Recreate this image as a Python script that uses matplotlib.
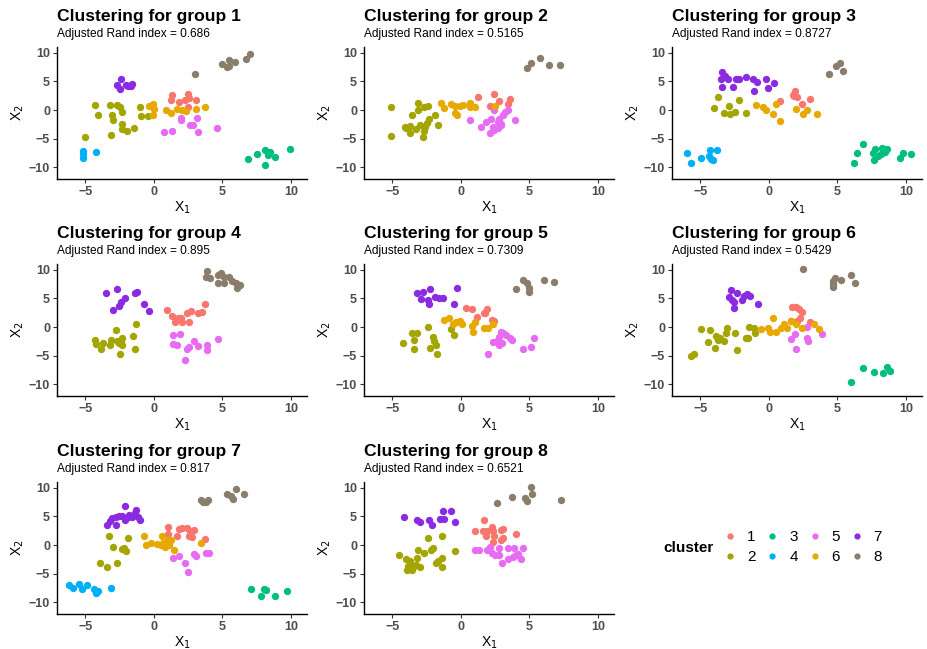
import matplotlib
matplotlib.use("Agg")
import matplotlib.pyplot as plt
from matplotlib.lines import Line2D

plt.rcParams['font.family'] = ['Liberation Sans', 'DejaVu Sans']

# cluster colours
palette = {1: '#F8766D', 2: '#A3A500', 3: '#00BF7D', 4: '#00B0F6',
           5: '#E76BF3', 6: '#E7A800', 7: '#8A2BE2', 8: '#8B7D6B'}

ari = ['0.686', '0.5165', '0.8727', '0.895', '0.7309', '0.5429', '0.817', '0.6521']

# points per group, keyed by cluster: (X1, X2)
group1 = {
    8: [(3.0, 6.3), (5.0, 8.0), (5.3, 7.6), (5.5, 7.7), (5.5, 8.8), (5.9, 8.5), (6.7, 9.0), (7.0, 9.9)],
    7: [(-2.4, 5.5), (-2.7, 4.3), (-2.5, 3.6), (-1.9, 4.2), (-1.6, 4.5), (-1.7, 4.2), (-2.0, 4.3)],
    2: [(-4.3, 0.9), (-4.1, -0.8), (-5.0, -4.7), (-3.2, 0.9), (-2.7, 0.9), (-2.5, 0.5), (-3.05, -0.9),
        (-2.95, -1.8), (-2.3, -0.35), (-2.3, -2.4), (-2.3, -3.3), (-1.97, -3.6), (-1.43, -3.2),
        (-3.1, -4.3), (-1.0, 0.5), (-0.95, -1.1), (-0.45, -1.1)],
    6: [(-0.38, 0.76), (-0.1, 1.0), (0.03, 0.18), (-0.07, -0.8), (0.9, 0.06), (1.25, -0.6), (1.69, 0.18),
        (2.06, -0.06), (2.35, -0.2), (3.04, 0.12), (3.7, 0.47)],
    1: [(1.3, 2.6), (1.25, 1.7), (1.86, 1.4), (2.47, 2.8), (2.55, 2.1), (2.3, 1.8), (3.06, 1.7), (2.5, 0.5)],
    5: [(0.72, -3.9), (1.35, -3.7), (2.0, -1.8), (1.95, -1.4), (2.62, -2.7), (2.87, -2.7), (3.16, -1.35),
        (3.21, -3.9), (4.58, -3.2)],
    4: [(-5.2, -7.2), (-5.2, -7.8), (-5.15, -8.4), (-4.2, -7.4)],
    3: [(6.9, -8.6), (7.55, -7.7), (8.1, -7.1), (8.13, -9.7), (8.35, -7.9), (8.5, -7.3), (8.8, -8.2), (9.9, -6.8)],
}

group2 = {
    8: [(4.8, 7.35), (5.1, 8.2), (5.8, 9.1), (6.45, 7.9), (7.2, 7.9)],
    2: [(-5.07, 0.6), (-5.07, -4.6), (-3.13, 1.3), (-3.1, 0.0), (-2.7, 0.6), (-2.4, 0.7), (-3.6, -0.8),
        (-4.1, -2.9), (-3.7, -2.8), (-3.75, -4.1), (-3.3, -3.4), (-2.95, -2.6), (-2.6, -2.9), (-2.7, -3.6),
        (-2.75, -4.8), (-2.35, -1.6), (-1.9, -0.9), (-1.65, -2.6), (-2.5, -2.2), (-4.0, -3.1)],
    6: [(-1.45, 1.2), (-1.2, 0.4), (-0.7, 1.0), (-0.4, 0.7), (-0.28, -0.9), (-0.4, -0.6), (0.15, 0.8),
        (-0.1, 0.7), (0.7, 1.3), (0.7, 0.5), (1.05, 0.6), (2.5, 0.7)],
    1: [(1.26, 2.2), (2.1, 0.7), (2.43, 2.8), (2.75, 1.5), (3.55, 1.9), (3.45, 1.1)],
    5: [(0.7, -1.8), (1.45, -2.9), (1.85, -2.1), (2.1, -4.0), (2.2, -1.5), (2.35, -2.9), (2.45, -3.5),
        (2.4, 0.0), (2.7, -2.1), (2.8, -1.5), (2.9, -2.6), (3.05, -0.9), (3.2, -0.3), (3.4, 0.0),
        (2.95, -2.5), (3.95, -1.8), (2.7, -3.2)],
}

group3 = {
    8: [(4.35, 6.3), (4.9, 7.7), (5.2, 8.3), (5.4, 6.8)],
    7: [(-3.45, 6.7), (-3.5, 5.5), (-3.2, 5.9), (-3.0, 5.4), (-3.4, 4.0), (-2.6, 4.0), (-2.4, 5.4),
        (-2.15, 5.4), (-1.7, 5.8), (-1.17, 5.4), (-0.88, 4.9), (-1.1, 3.3), (-0.2, 5.4), (-0.07, 3.9),
        (0.35, 4.8)],
    2: [(-4.0, 0.4), (-3.75, 2.2), (-3.3, -0.6), (-2.9, 0.7), (-2.85, -0.7), (-2.5, -0.3), (-2.17, 1.7),
        (-1.66, -0.5)],
    6: [(-0.93, 0.9), (-0.43, 0.6), (-0.2, 0.0), (0.3, -0.7), (0.55, 1.0), (0.8, -1.9), (1.95, 0.2),
        (2.5, -0.7), (2.8, 0.0), (3.5, -0.7)],
    1: [(0.83, 1.6), (1.87, 3.4), (1.8, 2.4), (2.07, 2.3), (1.77, 2.6), (2.45, 1.0), (3.0, 1.9)],
    4: [(-6.0, -7.6), (-5.7, -9.3), (-4.95, -8.4), (-4.3, -7.0), (-4.4, -8.0), (-4.25, -8.6),
        (-4.1, -8.8), (-3.8, -7.1)],
    3: [(6.2, -9.3), (6.4, -7.6), (6.9, -5.9), (7.6, -7.6), (7.75, -6.8), (7.7, -8.8), (7.95, -8.1),
        (8.15, -7.7), (8.25, -6.7), (8.45, -7.3), (8.6, -6.8), (9.55, -8.4), (9.8, -7.5), (10.4, -7.7)],
}

group4 = {
    8: [(3.85, 9.9), (3.8, 8.8), (4.1, 8.6), (4.7, 9.2), (4.9, 9.4), (5.1, 8.7), (4.7, 7.8), (5.1, 7.8),
        (5.5, 8.8), (5.7, 8.1), (6.0, 7.7), (6.05, 6.9), (6.3, 7.4)],
    7: [(-3.5, 5.9), (-2.7, 6.7), (-2.95, 3.0), (-2.55, 3.7), (-2.4, 4.3), (-2.1, 5.1), (-1.35, 5.9),
        (-1.2, 6.1), (-0.7, 4.1), (-0.35, 2.8)],
    2: [(-4.3, -2.2), (-4.25, -2.9), (-3.85, -3.9), (-3.7, -2.8), (-3.2, -3.2), (-3.1, -2.2), (-2.75, -0.6),
        (-2.7, -2.5), (-2.55, -2.8), (-2.4, -2.4), (-2.3, -1.9), (-2.3, -3.1), (-2.45, -4.7), (-1.5, -1.6),
        (-1.4, -3.8), (-1.3, 0.6)],
    1: [(0.93, 3.0), (1.35, 1.9), (1.55, 0.8), (1.75, 1.6), (1.95, 1.5), (2.05, 0.9), (2.4, 2.5),
        (2.55, 0.8), (2.7, 2.8), (3.2, 2.4), (3.5, 2.7), (3.7, 4.0)],
    5: [(1.4, -1.4), (1.9, -1.2), (1.4, -2.9), (1.7, -3.1), (2.45, -3.9), (2.55, -3.5), (2.9, -2.5),
        (3.2, -3.4), (2.25, -5.8), (3.85, -3.1), (3.9, -4.0), (4.7, -2.1)],
}

group5 = {
    8: [(4.0, 6.6), (4.5, 8.2), (4.8, 7.8), (4.95, 6.8), (5.0, 6.2), (6.05, 8.2), (6.8, 7.9)],
    7: [(-3.2, 5.9), (-2.8, 6.2), (-2.9, 4.9), (-2.4, 4.7), (-2.35, 4.1), (-2.27, 6.6), (-1.9, 5.3),
        (-1.6, 5.0), (-1.3, 5.0), (-0.5, 4.1), (-0.3, 6.8)],
    2: [(-4.2, -2.8), (-3.55, -1.1), (-3.4, -2.2), (-3.2, -1.0), (-3.4, -3.8), (-2.4, 0.0), (-2.0, -1.8),
        (-1.95, -2.5), (-2.25, -3.6), (-1.8, -3.2), (-1.75, -4.7), (-0.75, -0.4), (-0.5, -1.4)],
    6: [(-1.2, 1.2), (-0.9, 1.5), (-0.6, 0.6), (-0.35, 0.8), (-0.05, 1.0), (0.08, 0.6), (0.8, 0.2),
        (1.05, 0.9), (0.88, -0.9), (1.65, -0.2), (2.0, -0.2), (2.35, 0.5)],
    1: [(0.4, 3.4), (0.8, 3.1), (1.15, 1.8), (1.65, 2.4), (1.9, 3.1), (1.78, 2.5), (2.25, 1.2), (2.4, 1.1)],
    5: [(1.95, -4.7), (2.35, -2.6), (2.75, -1.8), (2.9, -0.8), (3.1, -1.0), (2.75, -3.1), (3.0, -2.8),
        (2.6, -2.4), (3.55, -2.0), (3.7, -2.3), (4.5, -3.9), (5.1, -3.5), (5.3, -2.0), (3.3, -1.4)],
}

group6 = {
    8: [(2.5, 10.2), (4.7, 8.1), (4.8, 8.6), (4.65, 7.1), (5.25, 8.3), (6.0, 9.1), (6.3, 7.8), (4.7, 7.6)],
    7: [(-2.8, 6.5), (-2.9, 5.3), (-2.7, 4.8), (-2.35, 5.9), (-2.55, 4.3), (-2.55, 3.4), (-1.95, 4.7),
        (-1.6, 5.8), (-1.35, 5.5), (-1.8, 5.5), (-0.8, 4.1)],
    2: [(-5.7, -5.1), (-5.5, -4.7), (-4.95, -0.4), (-4.3, -0.6), (-4.45, -2.6), (-3.85, -1.6), (-3.9, -3.6),
        (-3.7, -2.2), (-3.55, -2.0), (-3.3, -2.4), (-3.05, -0.1), (-3.15, -1.0), (-2.5, -1.0), (-2.3, -4.1),
        (-1.7, -2.0), (-1.45, 0.0), (-1.1, -0.1), (-1.0, -1.0), (-1.55, -2.0)],
    6: [(-0.55, -0.4), (0.05, -0.8), (-0.1, -0.1), (0.3, 1.6), (0.5, -0.8), (0.85, -0.1), (1.1, 0.6),
        (1.35, -0.2), (1.6, 1.1), (1.95, 0.5), (2.45, -0.1), (3.3, 0.5), (3.65, -0.4)],
    1: [(1.65, 3.5), (1.95, 3.5), (2.2, 3.1), (2.45, 2.6), (2.3, 1.6), (2.07, 1.1), (1.6, 1.1), (3.0, 0.8)],
    5: [(1.9, -1.2), (1.6, -2.1), (1.95, -3.9), (2.75, 0.0), (2.75, -1.9), (2.85, -2.5), (3.9, -1.2)],
    3: [(6.0, -9.6), (6.9, -7.2), (7.7, -7.9), (8.35, -8.1), (8.6, -7.1), (8.85, -7.8)],
}

group7 = {
    8: [(3.4, 7.9), (3.6, 7.5), (3.8, 7.6), (3.95, 7.9), (5.35, 9.0), (5.6, 8.6), (5.8, 8.1), (6.0, 9.9),
        (6.6, 8.9)],
    7: [(-3.4, 3.5), (-3.05, 4.7), (-2.8, 3.5), (-3.2, 4.2), (-2.55, 5.0), (-2.3, 5.1), (-2.1, 6.9),
        (-2.1, 4.4), (-1.8, 5.3), (-1.6, 4.9), (-1.4, 5.6), (-1.3, 6.1), (-1.15, 4.9), (-1.0, 4.3),
        (-2.8, 4.9), (-1.9, 4.9)],
    2: [(-3.3, 1.5), (-3.0, -0.3), (-1.9, 1.2), (-2.3, -0.7), (-2.15, -0.6), (-2.0, -1.0), (-3.95, -3.2),
        (-3.45, -3.8), (-2.7, -3.1)],
    6: [(-0.75, 1.5), (-0.55, 0.0), (-0.2, 0.3), (0.2, 0.2), (0.5, 0.0), (0.7, 0.3), (0.8, -0.4),
        (1.0, 0.9), (1.1, 0.0), (1.25, 0.9), (1.45, -0.8), (0.6, 1.5), (3.45, 0.3)],
    1: [(1.0, 3.2), (1.05, 2.0), (1.7, 1.5), (1.85, 2.8), (2.05, 2.9), (2.45, 2.9), (2.6, 2.4),
        (2.55, 1.5), (2.8, 1.4), (2.9, 2.6), (3.7, 1.0)],
    5: [(1.4, -2.2), (1.8, -1.9), (2.25, -3.2), (2.5, -4.7), (2.9, -1.6), (3.05, -2.0), (3.8, -1.35),
        (4.0, -1.35)],
    4: [(-6.2, -7.1), (-5.9, -7.6), (-5.5, -6.8), (-5.25, -7.8), (-4.9, -7.1), (-4.35, -7.8),
        (-4.25, -8.4), (-4.05, -8.0), (-3.1, -7.5)],
    3: [(7.1, -7.8), (7.8, -8.9), (8.05, -7.8), (8.2, -7.9), (8.8, -9.0), (9.7, -8.1)],
}

group8 = {
    8: [(2.65, 7.35), (3.7, 8.5), (4.7, 8.2), (4.8, 7.8), (5.1, 10.2), (5.2, 9.0), (7.3, 7.9)],
    7: [(-4.15, 4.9), (-3.2, 4.4), (-2.95, 4.0), (-2.35, 4.3), (-2.1, 3.5), (-1.5, 4.6), (-1.3, 6.0),
        (-1.25, 4.5), (-0.75, 6.0), (-0.4, 4.1)],
    2: [(-4.5, -1.8), (-4.0, -2.5), (-3.85, -3.7), (-3.95, -4.4), (-3.6, -4.4), (-3.7, -2.8), (-3.3, -3.5),
        (-3.2, -2.2), (-2.95, -3.9), (-3.1, -0.9), (-2.7, -1.4), (-2.4, 1.3), (-2.15, -0.8), (-2.0, -0.5),
        (-1.85, -3.1), (-1.65, -2.8), (-1.35, -2.2), (-1.35, -3.9), (-1.35, 1.5), (-0.45, -1.1),
        (-3.45, -3.7)],
    1: [(1.0, 2.5), (1.65, 4.3), (1.6, 2.4), (1.8, 1.6), (1.9, 2.5), (2.3, 3.2), (2.35, 2.4), (2.35, 0.6),
        (2.45, 1.6), (2.95, 2.6), (3.1, 2.8), (2.95, 0.9), (3.1, 1.2), (4.05, 1.9)],
    5: [(1.0, -0.9), (1.3, -0.9), (1.9, -0.9), (2.1, -0.4), (2.3, -1.4), (2.5, -1.8), (2.75, -0.6),
        (2.75, -1.8), (3.0, -3.2), (3.4, -0.6), (3.4, -2.5), (3.8, -2.1), (3.9, -0.6), (4.05, -1.8),
        (4.35, -2.4), (4.55, -0.6), (4.2, -1.5)],
}

groups = [group1, group2, group3, group4, group5, group6, group7, group8]

W, H = 928, 649
fig = plt.figure(figsize=(W / 100, H / 100), dpi=100)

col_left = [57, 364, 672]
row_top = [47, 264, 482]
pw, ph = 250, 132

for i, grp in enumerate(groups):
    r, c = divmod(i, 3)
    x0, y0 = col_left[c], row_top[r]
    ax = fig.add_axes([x0 / W, 1 - (y0 + ph) / H, pw / W, ph / H])
    for k in sorted(grp):
        pts = grp[k]
        ax.scatter([p[0] for p in pts], [p[1] for p in pts], s=28, color=palette[k],
                   linewidths=0, zorder=3)
    ax.set_xlim(-7.07, 11.17)
    ax.set_ylim(-12.1, 11.05)
    ax.set_xticks([-5, 0, 5, 10])
    ax.set_yticks([-10, -5, 0, 5, 10])
    ax.set_xticklabels(['\u22125', '0', '5', '10'])
    ax.set_yticklabels(['\u221210', '\u22125', '0', '5', '10'])
    for side in ('top', 'right'):
        ax.spines[side].set_visible(False)
    for side in ('left', 'bottom'):
        ax.spines[side].set_linewidth(1.0)
    ax.tick_params(length=3, width=0.8, color='#333333', pad=2,
                   labelsize=9, labelcolor='#4D4D4D')
    for lab in ax.get_xticklabels() + ax.get_yticklabels():
        lab.set_fontweight('bold')
    ax.set_xlabel('X$_1$', fontsize=10, labelpad=1)
    ax.set_ylabel('X$_2$', fontsize=10, labelpad=2)
    fig.text(x0 / W, 1 - (y0 - 26) / H, 'Clustering for group %d' % (i + 1),
             fontsize=12.6, fontweight='bold', ha='left', va='baseline')
    fig.text(x0 / W, 1 - (y0 - 10) / H, 'Adjusted Rand index = %s' % ari[i],
             fontsize=8.6, ha='left', va='baseline')

# legend in the empty ninth slot
handles = [Line2D([], [], ls='none', marker='o', markersize=4.5, markeredgewidth=0,
                  color=palette[k]) for k in range(1, 9)]
fig.text(663 / W, 1 - 548 / H, 'cluster', fontsize=11, fontweight='bold', ha='left', va='center')
fig.legend(handles, [str(k) for k in range(1, 9)], ncol=4, loc='center left',
           bbox_to_anchor=(709 / W, 1 - 547 / H), frameon=False, fontsize=11,
           handlelength=1.0, handletextpad=0.6, columnspacing=0.6, labelspacing=0.4)

fig.savefig('out.png', dpi=100)
